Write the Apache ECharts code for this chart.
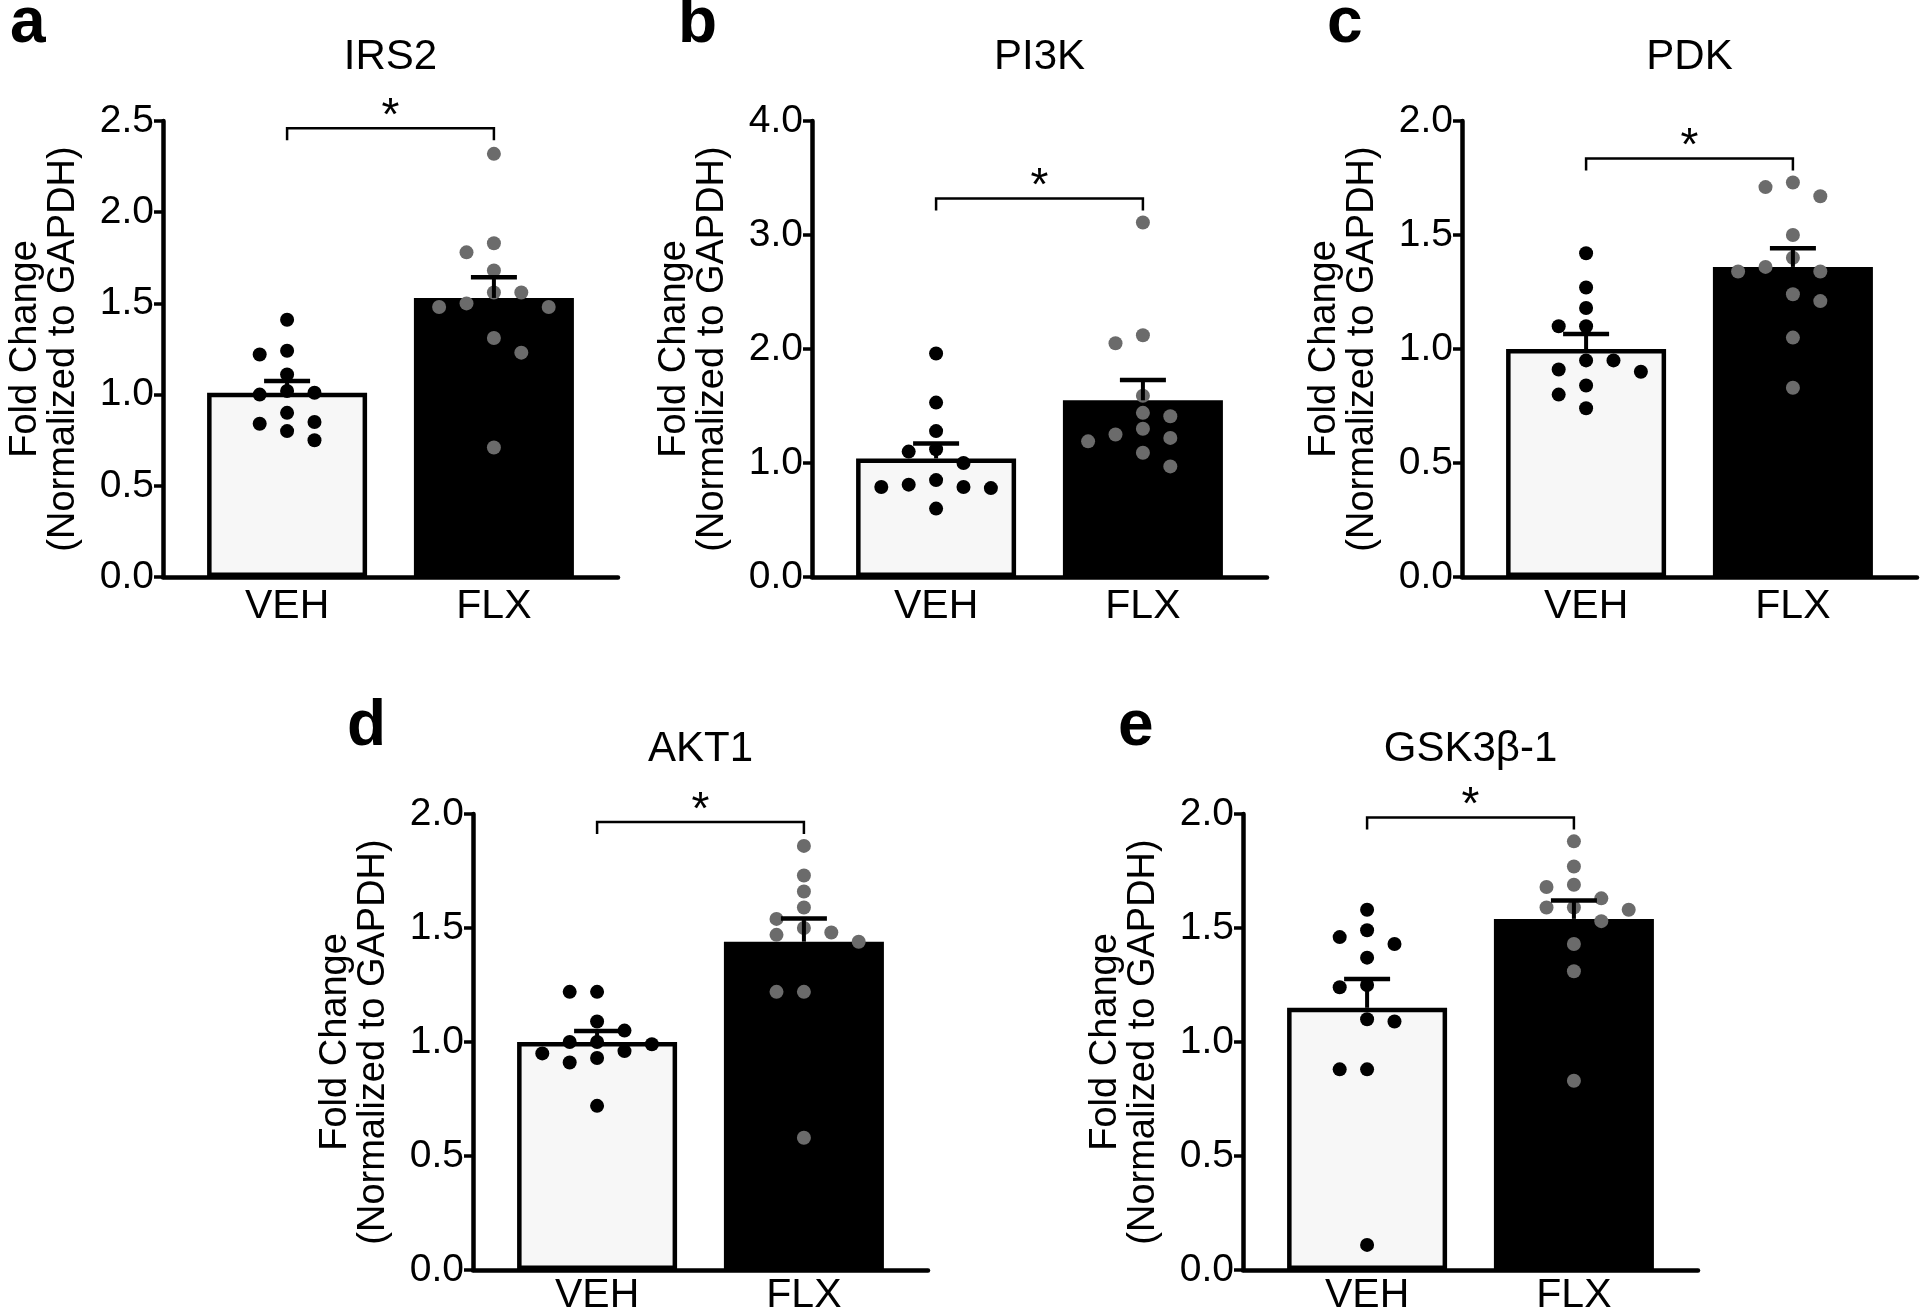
<!DOCTYPE html>
<html><head><meta charset="utf-8">
<script src="https://cdn.jsdelivr.net/npm/echarts@6/dist/echarts.min.js"></script>
<style>html,body{margin:0;padding:0;background:#fff}#c{width:1920px;height:1310px}</style>
</head><body><div id="c"></div>
<script>
// ---------- data ----------
const groups = ['VEH', 'FLX'];
const panelLetters = ['a', 'b', 'c', 'd', 'e'];
const panelTitles = ['IRS2', 'PI3K', 'PDK', 'AKT1', 'GSK3β-1'];
const yMax = [2.5, 4.0, 2.0, 2.0, 2.0];
const yStep = [0.5, 1.0, 0.5, 0.5, 0.5];

const irs2VEH = [1.41, 1.24, 1.22, 1.11, 1.02, 1.01, 1.00, 0.90, 0.85, 0.84, 0.80, 0.75];
const irs2FLX = [2.32, 1.83, 1.78, 1.68, 1.56, 1.56, 1.50, 1.48, 1.48, 1.31, 1.23, 0.71];
const pi3kVEH = [1.96, 1.53, 1.28, 1.12, 1.10, 1.00, 0.85, 0.81, 0.79, 0.79, 0.78, 0.60];
const pi3kFLX = [3.11, 2.12, 2.05, 1.59, 1.44, 1.41, 1.30, 1.25, 1.22, 1.19, 1.09, 0.97];
const pdkVEH  = [1.42, 1.27, 1.18, 1.10, 1.10, 0.95, 0.95, 0.91, 0.90, 0.84, 0.80, 0.74];
const pdkFLX  = [1.73, 1.71, 1.67, 1.50, 1.40, 1.36, 1.34, 1.34, 1.24, 1.21, 1.05, 0.83];
const akt1VEH = [1.22, 1.22, 1.09, 1.05, 1.00, 1.00, 0.99, 0.96, 0.95, 0.93, 0.91, 0.72];
const akt1FLX = [1.86, 1.73, 1.66, 1.59, 1.54, 1.50, 1.48, 1.47, 1.44, 1.22, 1.22, 0.58];
const gskVEH  = [1.58, 1.49, 1.46, 1.43, 1.37, 1.25, 1.24, 1.10, 1.09, 0.88, 0.88, 0.11];
const gskFLX  = [1.88, 1.77, 1.69, 1.68, 1.63, 1.59, 1.59, 1.58, 1.53, 1.43, 1.31, 0.83];

const meanVEH = [1.01, 1.04, 1.00, 1.00, 1.15];
const semVEH  = [0.065, 0.13, 0.066, 0.048, 0.126];
const meanFLX = [1.53, 1.55, 1.36, 1.44, 1.54];
const semFLX  = [0.114, 0.179, 0.082, 0.102, 0.081];
const sigY    = [2.46, 3.32, 1.835, 1.965, 1.985];
const sigText = ['*', '*', '*', '*', '*'];

const vehDots = [irs2VEH, pi3kVEH, pdkVEH, akt1VEH, gskVEH];
const flxDots = [irs2FLX, pi3kFLX, pdkFLX, akt1FLX, gskFLX];

// ---------- layout ----------
const FONT = '"Liberation Sans", Arial, Helvetica, sans-serif';
const gridLeft = [163, 812, 1462, 473, 1243];
const gridTop = [121, 121, 121, 814, 814];
const GW = 455, GH = 456;
const X_MIN = -0.6, X_MAX = 1.6;
const letterX = [10, 678, 1327, 347, 1118];
const letterMidY = [24, 24, 24, 727, 727];
const titleMidY = [57, 57, 57, 749, 749];
const xLabelMargin = [9, 9, 9, 5, 5];
const DOT = 14;

// beeswarm-style horizontal spreading of dots (in x-axis units)
function swarm(vals, pxPerY, pxPerX) {
  const s = 13.7, dyMin = 15;
  const order = vals.map((v, i) => i).sort((a, b) => vals[b] - vals[a]);
  const placed = [], off = new Array(vals.length).fill(0);
  let toggle = -1;
  for (const i of order) {
    const y = vals[i] * pxPerY;
    let done = false;
    for (let k = 0; k < 30 && !done; k++) {
      const cands = k === 0 ? [0] : [toggle * k, -toggle * k];
      for (const c of cands) {
        const x = c * s;
        const ok = placed.every(p => !(Math.abs(p.x - x) < 2 * s - 0.1 && Math.abs(p.y - y) < dyMin));
        if (ok) {
          placed.push({ x, y }); off[i] = x / pxPerX; done = true;
          if (k > 0) toggle = -Math.sign(c);
          break;
        }
      }
    }
  }
  return off;
}

const grid = [], xAxis = [], yAxis = [], series = [], graphic = [];
const pxPerX = GW / (X_MAX - X_MIN);

for (let i = 0; i < 5; i++) {
  grid.push({ left: gridLeft[i], top: gridTop[i], width: GW, height: GH, containLabel: false, outerBoundsMode: 'none' });
  xAxis.push({
    gridIndex: i, type: 'value', min: X_MIN, max: X_MAX,
    axisLine: { show: true, onZero: false, lineStyle: { color: '#000', width: 4.5 } },
    axisTick: { show: false }, splitLine: { show: false },
    axisLabel: {
      customValues: [0, 1], margin: xLabelMargin[i], color: '#000', fontSize: 41, fontFamily: FONT,
      formatter: v => groups[Math.round(v)] || ''
    }
  });
  yAxis.push({
    gridIndex: i, type: 'value', min: 0, max: yMax[i], interval: yStep[i],
    axisLine: { show: true, onZero: false, lineStyle: { color: '#000', width: 4.5 } },
    axisTick: { show: true, length: 9, lineStyle: { color: '#000', width: 3.5 } },
    splitLine: { show: false },
    axisLabel: { margin: 9, color: '#000', fontSize: 39, fontFamily: FONT, formatter: v => v.toFixed(1) },
    name: 'Fold Change\n(Normalized to GAPDH)', nameLocation: 'middle', nameGap: 80,
    nameTextStyle: { color: '#000', fontSize: 38, lineHeight: 38, fontFamily: FONT }
  });

  const pxPerY = GH / yMax[i];
  const offV = swarm(vehDots[i], pxPerY, pxPerX);
  const offF = swarm(flxDots[i], pxPerY, pxPerX);

  series.push({
    type: 'bar', xAxisIndex: i, yAxisIndex: i, barWidth: 160, z: 2, silent: true,
    itemStyle: { borderColor: '#000', borderWidth: 4.5 },
    data: [
      { value: [0, meanVEH[i]], itemStyle: { color: '#f7f7f7' } },
      { value: [1, meanFLX[i]], itemStyle: { color: '#000' } }
    ]
  });
  series.push({
    type: 'scatter', xAxisIndex: i, yAxisIndex: i, symbolSize: DOT, z: 3, silent: true,
    itemStyle: { color: '#000', opacity: 1 },
    data: vehDots[i].map((v, j) => [0 + offV[j], v])
  });
  series.push({
    type: 'scatter', xAxisIndex: i, yAxisIndex: i, symbolSize: DOT, z: 3, silent: true,
    itemStyle: { color: '#6b6b6b', opacity: 1 },
    data: flxDots[i].map((v, j) => [1 + offF[j], v])
  });
  series.push({
    type: 'custom', xAxisIndex: i, yAxisIndex: i, z: 5, silent: true, clip: false,
    data: [[0, meanVEH[i], meanVEH[i] + semVEH[i]], [1, meanFLX[i], meanFLX[i] + semFLX[i]]],
    renderItem: (params, api) => {
      const b = api.coord([api.value(0), api.value(1)]);
      const t = api.coord([api.value(0), api.value(2)]);
      return {
        type: 'group', children: [
          { type: 'line', shape: { x1: b[0], y1: b[1], x2: t[0], y2: t[1] }, style: { stroke: '#000', lineWidth: 4 } },
          { type: 'line', shape: { x1: t[0] - 23, y1: t[1], x2: t[0] + 23, y2: t[1] }, style: { stroke: '#000', lineWidth: 4.5 } }
        ]
      };
    }
  });
  series.push({
    type: 'custom', xAxisIndex: i, yAxisIndex: i, z: 5, silent: true, clip: false,
    data: [[0, 1, sigY[i]]],
    renderItem: (params, api) => {
      const p0 = api.coord([api.value(0), api.value(2)]);
      const p1 = api.coord([api.value(1), api.value(2)]);
      return {
        type: 'group', children: [
          { type: 'polyline', shape: { points: [[p0[0], p0[1] + 12], [p0[0], p0[1]], [p1[0], p1[1]], [p1[0], p1[1] + 12]] },
            style: { stroke: '#000', lineWidth: 2.5, fill: null } },
          { type: 'text', x: (p0[0] + p1[0]) / 2, y: p0[1] - 11,
            style: { text: sigText[i], fill: '#000', font: '46px ' + FONT, align: 'center', verticalAlign: 'middle' } }
        ]
      };
    }
  });

  graphic.push({ type: 'text', x: letterX[i], y: letterMidY[i], silent: true,
    style: { text: panelLetters[i], fill: '#000', font: 'bold 64px ' + FONT, align: 'left', verticalAlign: 'middle' } });
  graphic.push({ type: 'text', x: gridLeft[i] + GW / 2, y: titleMidY[i], silent: true,
    style: { text: panelTitles[i], fill: '#000', font: '42px ' + FONT, align: 'center', verticalAlign: 'middle' } });
}

const chart = echarts.init(document.getElementById('c'), null, { renderer: 'canvas' });
chart.setOption({
  backgroundColor: '#fff', animation: false,
  grid, xAxis, yAxis, series, graphic
});
</script></body></html>
